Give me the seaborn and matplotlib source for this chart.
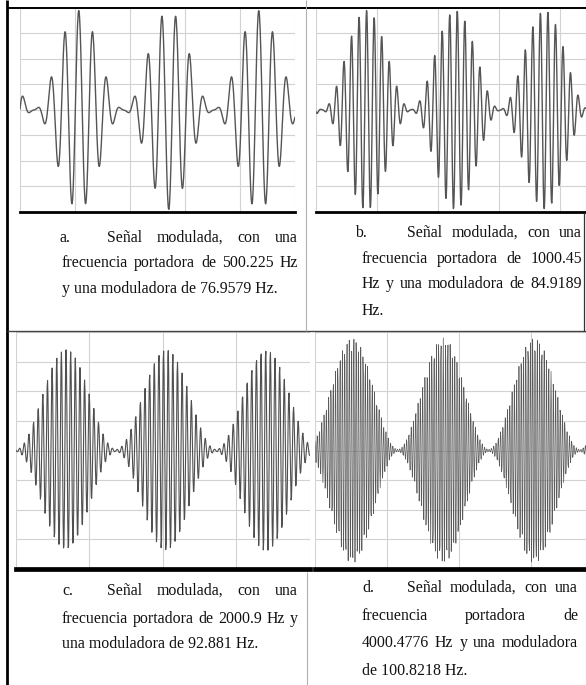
import numpy as np
import pandas as pd
import matplotlib
matplotlib.use("Agg")
import matplotlib.pyplot as plt
import seaborn as sns
from matplotlib.lines import Line2D

# ---------------- data ----------------
panel_labels = ["a.", "b.", "c.", "d."]
carrier_hz = [500.225, 1000.45, 2000.9, 4000.4776]
modulator_hz = [76.9579, 84.9189, 92.881, 100.8218]
ms_per_div = [7.94, 8.07, 7.91, 7.85]          # time base (ms / division)
divs_shown = [5, 5, 4, 5]                       # horizontal divisions of each screen
first_min_div = [0.25, 0.10, 0.0, 1.15]         # position of first envelope minimum (div)
peak_div = [3.9, 3.9, 3.4, 3.8]                 # peak amplitude (vertical divisions)
mod_depth = [0.99, 0.99, 0.98, 0.98]
samples = [900, 900, 700, 1000]                 # scope samples per screen

caption_a = ["Señal modulada, con una", "frecuencia portadora de 500.225 Hz",
             "y una moduladora de 76.9579 Hz."]
caption_b = ["Señal modulada, con una", "frecuencia portadora de 1000.45",
             "Hz y una moduladora de 84.9189", "Hz."]
caption_c = ["Señal modulada, con una", "frecuencia portadora de 2000.9 Hz y",
             "una moduladora de 92.881 Hz."]
caption_d = ["Señal modulada, con una", "frecuencia portadora de",
             "4000.4776 Hz y una moduladora", "de 100.8218 Hz."]
captions = [caption_a, caption_b, caption_c, caption_d]

# ---------------- layout (pixels) ----------------
W, H = 586, 685
axes_px = [(20, 8, 295, 212), (316, 8, 621, 212), (16, 332, 310, 569), (315, 332, 675, 569)]
spine_w = [2.0, 2.0, 3.4, 3.4]
line_w = [1.0, 1.0, 0.8, 0.5]
line_c = ["#555555", "#555555", "#505050", "#5a5a5a"]
# caption geometry: label x, first-line x, other-lines x, right x, baselines
cap_geom = [
    (60, 107, 62, 298, [242, 267, 293]),
    (355, 407, 362, 582, [237, 263, 288, 315]),
    (62, 107, 62, 298, [595, 623, 648]),
    (362, 407, 362, 578, [592, 620, 647, 675]),
]

sns.set_style("white")
plt.rcParams["font.family"] = ["Liberation Serif", "DejaVu Serif"]

fig = plt.figure(figsize=(W / 100, H / 100), dpi=100)
fig.patch.set_facecolor("white")


def fx(x):
    return x / W


def fy(y):
    return 1 - y / H


for i in range(4):
    x0, y0, x1, y1 = axes_px[i]
    ax = fig.add_axes([fx(x0), fy(y1), (x1 - x0) / W, (y1 - y0) / H])
    tmax = divs_shown[i] * ms_per_div[i]
    t = np.linspace(0, tmax, samples[i])
    tmin = first_min_div[i] * ms_per_div[i]
    m = mod_depth[i]
    env = peak_div[i] * (1 - m * np.cos(2 * np.pi * modulator_hz[i] * (t - tmin) * 1e-3)) / (1 + m)
    tpk = tmin + 0.5e3 / modulator_hz[i]
    sig = env * np.cos(2 * np.pi * carrier_hz[i] * (t - tpk) * 1e-3)
    df = pd.DataFrame({"t": t, "v": sig})
    sns.lineplot(data=df, x="t", y="v", ax=ax, color=line_c[i], lw=line_w[i],
                 estimator=None, sort=False, zorder=3)
    ax.set_xlim(0, tmax)
    ax.set_ylim(-4, 4)
    ax.set_xticks(np.arange(divs_shown[i] + 1) * ms_per_div[i])
    ax.set_yticks(np.arange(-4, 5))
    ax.grid(True, color="#d2d2d2", lw=0.8, zorder=0)
    ax.tick_params(length=0, labelbottom=False, labelleft=False)
    ax.set_xlabel("")
    ax.set_ylabel("")
    for s in ["left", "right", "top"]:
        ax.spines[s].set_visible(False)
    ax.spines["bottom"].set_color("black")
    ax.spines["bottom"].set_linewidth(spine_w[i])
    ax.spines["bottom"].set_zorder(5)
    ax.set_facecolor("white")


def fline(xs, ys, color, lw):
    fig.add_artist(Line2D([fx(x) for x in xs], [fy(y) for y in ys],
                          transform=fig.transFigure, color=color, lw=lw,
                          solid_capstyle="butt", zorder=10))


# table borders
fline([7, 7], [0, 685], "black", 2.0)
fline([7, 586], [8, 8], "black", 1.4)
fline([7, 586], [331, 331], "#444444", 1.0)
fline([306, 306], [0, 331], "#b0b0b0", 0.8)
fline([584, 584], [213, 331], "#333333", 0.9)
fline([307, 307], [572, 685], "#b0b0b0", 0.8)

# captions
renderer = fig.canvas.get_renderer()
FS = 11.4
TC = "#111111"


def put(x, y, s):
    return fig.text(fx(x), fy(y), s, fontsize=FS, color=TC, ha="left", va="baseline")


for i in range(4):
    lx, x_first, x_other, x_right, bases = cap_geom[i]
    lines = captions[i]
    put(lx, bases[0], panel_labels[i])
    for k, line in enumerate(lines):
        x_start = x_first if k == 0 else x_other
        last = k == len(lines) - 1
        words = line.split(" ")
        if last or len(words) < 2:
            put(x_start, bases[k], line)
            continue
        txts = [put(x_start, bases[k], w) for w in words]
        widths = [tt.get_window_extent(renderer).width for tt in txts]
        gap = (x_right - x_start - sum(widths)) / (len(words) - 1)
        xc = x_start
        for tt, wd in zip(txts, widths):
            tt.set_x(fx(xc))
            xc += wd + gap

fig.savefig("out.png", dpi=100, facecolor="white")
